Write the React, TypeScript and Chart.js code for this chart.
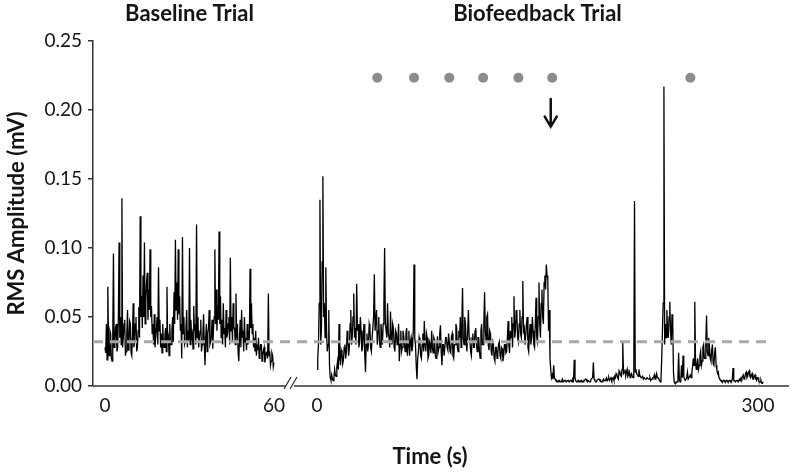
import React, { useEffect, useRef } from 'react';
import { Chart, registerables } from 'chart.js';

Chart.register(...registerables);

// ---------------- data ----------------
const baselineStepSec = 0.25;
const baselineRms = [
  0.028, 0.024, 0.045, 0.019, 0.072, 0.03, 0.022, 0.04, 0.038, 0.02,
  0.018, 0.035, 0.096, 0.028, 0.03, 0.042, 0.045, 0.025, 0.028, 0.05,
  0.104, 0.035, 0.05, 0.03, 0.136, 0.028, 0.035, 0.045, 0.048, 0.022,
  0.025, 0.038, 0.055, 0.026, 0.03, 0.047, 0.045, 0.024, 0.022, 0.036,
  0.06, 0.028, 0.032, 0.045, 0.05, 0.025, 0.028, 0.04, 0.057, 0.035,
  0.123, 0.05, 0.065, 0.042, 0.08, 0.05, 0.104, 0.045, 0.062, 0.075,
  0.082, 0.048, 0.07, 0.055, 0.099, 0.05, 0.058, 0.038, 0.045, 0.03,
  0.052, 0.028, 0.035, 0.042, 0.05, 0.03, 0.086, 0.04, 0.048, 0.028,
  0.038, 0.024, 0.045, 0.03, 0.028, 0.036, 0.042, 0.025, 0.072, 0.032,
  0.035, 0.022, 0.045, 0.03, 0.03, 0.04, 0.05, 0.032, 0.068, 0.045,
  0.106, 0.055, 0.075, 0.048, 0.099, 0.052, 0.065, 0.04, 0.045, 0.02,
  0.108, 0.038, 0.05, 0.03, 0.032, 0.042, 0.055, 0.028, 0.04, 0.033,
  0.1, 0.03, 0.048, 0.035, 0.038, 0.027, 0.058, 0.04, 0.045, 0.03,
  0.117, 0.035, 0.05, 0.028, 0.035, 0.04, 0.048, 0.025, 0.03, 0.038,
  0.052, 0.03, 0.015, 0.035, 0.045, 0.025, 0.038, 0.042, 0.055, 0.03,
  0.032, 0.036, 0.048, 0.027, 0.04, 0.05, 0.099, 0.045, 0.07, 0.04,
  0.058, 0.048, 0.112, 0.045, 0.065, 0.035, 0.048, 0.03, 0.06, 0.038,
  0.042, 0.028, 0.055, 0.035, 0.038, 0.045, 0.05, 0.03, 0.093, 0.04,
  0.05, 0.032, 0.06, 0.042, 0.042, 0.03, 0.067, 0.035, 0.045, 0.025,
  0.018, 0.035, 0.048, 0.028, 0.055, 0.035, 0.04, 0.025, 0.05, 0.032,
  0.035, 0.026, 0.045, 0.03, 0.04, 0.033, 0.085, 0.042, 0.06, 0.038,
  0.045, 0.028, 0.035, 0.025, 0.04, 0.022, 0.03, 0.026, 0.035, 0.02,
  0.025, 0.03, 0.03, 0.018, 0.022, 0.026, 0.028, 0.017, 0.02, 0.024,
  0.025, 0.02, 0.067, 0.022, 0.025, 0.015, 0.018, 0.024, 0.022, 0.014,
  0.017,
];

const biofeedbackStepSec = 0.5;
const biofeedbackRms = [
  0.012, 0.02, 0.03, 0.06, 0.135, 0.03, 0.04, 0.09, 0.152, 0.05,
  0.06, 0.035, 0.086, 0.04, 0.025, 0.03, 0.055, 0.015, 0.006, 0.004,
  0.008, 0.005, 0.004, 0.006, 0.012, 0.008, 0.007, 0.014, 0.018, 0.012,
  0.045, 0.02, 0.015, 0.026, 0.024, 0.016, 0.019, 0.028, 0.03, 0.02,
  0.025, 0.04, 0.034, 0.022, 0.028, 0.045, 0.055, 0.03, 0.036, 0.05,
  0.067, 0.035, 0.042, 0.03, 0.074, 0.04, 0.045, 0.028, 0.032, 0.05,
  0.04, 0.025, 0.028, 0.038, 0.045, 0.022, 0.01, 0.03, 0.038, 0.025,
  0.03, 0.045, 0.042, 0.028, 0.025, 0.035, 0.035, 0.05, 0.081, 0.04,
  0.04, 0.055, 0.03, 0.04, 0.05, 0.032, 0.028, 0.045, 0.038, 0.03,
  0.045, 0.06, 0.1, 0.045, 0.04, 0.035, 0.06, 0.038, 0.035, 0.028,
  0.054, 0.035, 0.03, 0.045, 0.042, 0.028, 0.025, 0.04, 0.038, 0.03,
  0.032, 0.045, 0.018, 0.03, 0.04, 0.025, 0.028, 0.04, 0.036, 0.03,
  0.025, 0.038, 0.042, 0.022, 0.03, 0.04, 0.022, 0.032, 0.035, 0.025,
  0.028, 0.04, 0.088, 0.035, 0.03, 0.015, 0.005, 0.02, 0.025, 0.035,
  0.032, 0.022, 0.02, 0.03, 0.038, 0.025, 0.047, 0.03, 0.025, 0.038,
  0.035, 0.02, 0.022, 0.032, 0.03, 0.024, 0.04, 0.028, 0.024, 0.035,
  0.033, 0.022, 0.02, 0.03, 0.036, 0.025, 0.028, 0.038, 0.044, 0.025,
  0.015, 0.03, 0.03, 0.022, 0.022, 0.035, 0.035, 0.028, 0.026, 0.038,
  0.032, 0.025, 0.024, 0.036, 0.038, 0.022, 0.02, 0.03, 0.03, 0.045,
  0.042, 0.028, 0.025, 0.04, 0.035, 0.05, 0.028, 0.045, 0.071, 0.035,
  0.03, 0.05, 0.045, 0.03, 0.025, 0.04, 0.055, 0.035, 0.032, 0.025,
  0.022, 0.035, 0.038, 0.028, 0.028, 0.04, 0.042, 0.03, 0.025, 0.035,
  0.035, 0.025, 0.02, 0.04, 0.045, 0.03, 0.03, 0.045, 0.068, 0.04,
  0.033, 0.05, 0.052, 0.03, 0.026, 0.04, 0.038, 0.025, 0.022, 0.032,
  0.03, 0.02, 0.018, 0.028, 0.028, 0.02, 0.024, 0.03, 0.032, 0.022,
  0.02, 0.028, 0.027, 0.018, 0.022, 0.03, 0.03, 0.024, 0.025, 0.035,
  0.047, 0.03, 0.024, 0.04, 0.035, 0.05, 0.028, 0.045, 0.065, 0.035,
  0.04, 0.055, 0.05, 0.035, 0.032, 0.045, 0.055, 0.038, 0.035, 0.05,
  0.076, 0.04, 0.042, 0.03, 0.03, 0.045, 0.05, 0.028, 0.025, 0.038,
  0.045, 0.03, 0.035, 0.05, 0.04, 0.03, 0.028, 0.045, 0.064, 0.035,
  0.032, 0.05, 0.075, 0.045, 0.035, 0.06, 0.07, 0.05, 0.045, 0.075,
  0.08, 0.07, 0.088, 0.08, 0.078, 0.04, 0.055, 0.02, 0.012, 0.006,
  0.008, 0.005, 0.015, 0.006, 0.005, 0.004, 0.004, 0.003, 0.003, 0.004,
  0.004, 0.003, 0.003, 0.004, 0.005, 0.003, 0.003, 0.004, 0.004, 0.003,
  0.003, 0.004, 0.004, 0.003, 0.003, 0.004, 0.004, 0.003, 0.005, 0.004,
  0.019, 0.006, 0.004, 0.003, 0.003, 0.004, 0.004, 0.003, 0.003, 0.004,
  0.004, 0.003, 0.003, 0.004, 0.004, 0.005, 0.005, 0.004, 0.003, 0.004,
  0.004, 0.003, 0.003, 0.005, 0.005, 0.006, 0.017, 0.005, 0.004, 0.003,
  0.003, 0.004, 0.004, 0.005, 0.005, 0.004, 0.004, 0.003, 0.003, 0.004,
  0.005, 0.004, 0.004, 0.005, 0.006, 0.004, 0.005, 0.006, 0.004, 0.005,
  0.006, 0.004, 0.005, 0.006, 0.004, 0.007, 0.006, 0.009, 0.008, 0.006,
  0.005, 0.011, 0.01, 0.008, 0.007, 0.012, 0.032, 0.009, 0.01, 0.012,
  0.007, 0.01, 0.012, 0.007, 0.008, 0.01, 0.006, 0.008, 0.009, 0.007,
  0.006, 0.008, 0.134, 0.01, 0.012, 0.009, 0.008, 0.007, 0.012, 0.008,
  0.007, 0.006, 0.006, 0.007, 0.005, 0.006, 0.006, 0.005, 0.005, 0.006,
  0.006, 0.005, 0.005, 0.006, 0.004, 0.005, 0.005, 0.006, 0.006, 0.008,
  0.005, 0.007, 0.009, 0.006, 0.006, 0.005, 0.004, 0.003, 0.005, 0.02,
  0.04, 0.06, 0.217, 0.03, 0.045, 0.035, 0.055, 0.04, 0.035, 0.05,
  0.061, 0.04, 0.03, 0.052, 0.045, 0.01, 0.003, 0.002, 0.002, 0.003,
  0.003, 0.004, 0.024, 0.004, 0.003, 0.005, 0.015, 0.006, 0.022, 0.007,
  0.005, 0.004, 0.004, 0.006, 0.01, 0.005, 0.005, 0.007, 0.008, 0.006,
  0.01, 0.014, 0.02, 0.015, 0.061, 0.018, 0.012, 0.016, 0.02, 0.012,
  0.015, 0.022, 0.025, 0.015, 0.018, 0.028, 0.03, 0.02, 0.02, 0.032,
  0.051, 0.025, 0.022, 0.035, 0.028, 0.02, 0.018, 0.026, 0.03, 0.016,
  0.015, 0.024, 0.028, 0.015, 0.012, 0.009, 0.01, 0.006, 0.005, 0.004,
  0.004, 0.003, 0.003, 0.004, 0.004, 0.003, 0.003, 0.004, 0.004, 0.003,
  0.003, 0.004, 0.004, 0.003, 0.003, 0.005, 0.013, 0.004, 0.004, 0.003,
  0.003, 0.004, 0.004, 0.003, 0.003, 0.005, 0.004, 0.006, 0.005, 0.007,
  0.008, 0.005, 0.006, 0.009, 0.01, 0.006, 0.007, 0.01, 0.011, 0.007,
  0.006, 0.008, 0.009, 0.005, 0.005, 0.007, 0.008, 0.005, 0.004, 0.006,
  0.006, 0.004, 0.003, 0.003, 0.004, 0.002, 0.002, 0.003, 0.003,
];

const thresholdRms = 0.032;
const markerSeconds = [41, 66, 90, 113, 137, 160, 254];
const markerLevel = 0.2234;
const arrowSecond = 159;
const arrowFromRms = 0.208;
const arrowToRms = 0.188;

const yTickValues = [0, 0.05, 0.1, 0.15, 0.2, 0.25];
const yTickLabels = ['0.00', '0.05', '0.10', '0.15', '0.20', '0.25'];
const xTickTrials = ['baseline', 'baseline', 'biofeedback', 'biofeedback'];
const xTickSeconds = [0, 60, 0, 300];
const xTickLabels = ['0', '60', '0', '300'];
const trialNames = ['baseline', 'biofeedback'];
const trialTitles = ['Baseline Trial', 'Biofeedback Trial'];
const trialTitleSeconds = [30, 150];

// ---------------- layout (broken time axis) ----------------
const AXIS_MIN = 93;
const AXIS_MAX = 789;
const SEGMENTS: Record<string, { origin: number; perSec: number }> = {
  baseline: { origin: 105, perSec: 169 / 60 },
  biofeedback: { origin: 317, perSec: 441 / 300 },
};
const BREAK_AT = 290;
const THRESHOLD_END = 770;
const toAxis = (trial: string, sec: number) => SEGMENTS[trial].origin + sec * SEGMENTS[trial].perSec;

const FONT = 'Lato, "Open Sans", sans-serif';
const TEXT = '#151515';
const AXIS = '#333333';
const TITLE_SIZE = 22;
const TICK_SIZE = 19;

const overlayPlugin = {
  id: 'overlay',
  afterDraw(chart: any) {
    const { ctx, chartArea, scales } = chart;
    const x = scales.x;
    const y = scales.y;
    ctx.save();
    // broken x axis line
    const yb = chartArea.bottom;
    const bx = x.getPixelForValue(BREAK_AT);
    ctx.strokeStyle = AXIS;
    ctx.lineWidth = 1.5;
    ctx.beginPath();
    ctx.moveTo(chartArea.left, yb);
    ctx.lineTo(bx - 4, yb);
    ctx.moveTo(bx + 4, yb);
    ctx.lineTo(chartArea.right, yb);
    ctx.stroke();
    ctx.lineWidth = 1.3;
    ctx.beginPath();
    ctx.moveTo(bx - 6, yb + 3);
    ctx.lineTo(bx + 1, yb - 9);
    ctx.moveTo(bx, yb + 3);
    ctx.lineTo(bx + 7, yb - 9);
    ctx.stroke();

    // arrow
    const ax = x.getPixelForValue(toAxis('biofeedback', arrowSecond));
    const y1 = y.getPixelForValue(arrowFromRms);
    const y2 = y.getPixelForValue(arrowToRms);
    ctx.strokeStyle = '#111';
    ctx.lineWidth = 2.5;
    ctx.lineCap = 'round';
    ctx.beginPath();
    ctx.moveTo(ax, y1);
    ctx.lineTo(ax, y2);
    ctx.moveTo(ax - 6, y2 - 10);
    ctx.lineTo(ax, y2);
    ctx.lineTo(ax + 6, y2 - 10);
    ctx.stroke();

    // trial titles
    ctx.fillStyle = TEXT;
    ctx.font = `bold ${TITLE_SIZE}px ${FONT}`;
    ctx.textAlign = 'center';
    ctx.textBaseline = 'middle';
    trialNames.forEach((tr, i) => {
      const px = x.getPixelForValue(toAxis(tr, trialTitleSeconds[i]));
      ctx.fillText(trialTitles[i], px, 14);
    });
    // x axis title
    ctx.fillText('Time (s)', 430, 457);
    ctx.restore();
  },
};

export default function App() {
  const ref = useRef<HTMLCanvasElement>(null);

  useEffect(() => {
    document.body.style.margin = '0';
    const canvas = ref.current;
    if (!canvas) return;

    const baselinePts = baselineRms.map((v, i) => ({ x: toAxis('baseline', i * baselineStepSec), y: v }));
    const bioPts = biofeedbackRms.map((v, i) => ({ x: toAxis('biofeedback', i * biofeedbackStepSec), y: v }));
    const markerPts = markerSeconds.map((s) => ({ x: toAxis('biofeedback', s), y: markerLevel }));
    const thresholdPts = [
      { x: AXIS_MIN, y: thresholdRms },
      { x: THRESHOLD_END, y: thresholdRms },
    ];

    const chart = new Chart(canvas, {
      type: 'line',
      data: {
        datasets: [
          {
            data: thresholdPts,
            borderColor: '#a8a8a8',
            borderWidth: 3,
            borderDash: [10, 7],
            pointRadius: 0,
          },
          {
            data: markerPts,
            showLine: false,
            pointRadius: 5,
            pointBackgroundColor: '#8c8c8c',
            pointBorderWidth: 0,
            borderColor: '#8c8c8c',
          },
          {
            data: baselinePts,
            borderColor: '#000',
            borderWidth: 1.3,
            pointRadius: 0,
            tension: 0,
          },
          {
            data: bioPts,
            borderColor: '#000',
            borderWidth: 1.3,
            pointRadius: 0,
            tension: 0,
          },
        ],
      } as any,
      options: {
        animation: false,
        responsive: false,
        maintainAspectRatio: false,
        layout: { padding: { left: 0, right: 11, top: 41, bottom: 0 } },
        plugins: {
          legend: { display: false },
          tooltip: { enabled: false },
          title: { display: false },
        },
        scales: {
          x: {
            type: 'linear',
            min: AXIS_MIN,
            max: AXIS_MAX,
            border: { display: false },
            grid: { display: false, drawTicks: false },
            afterBuildTicks: (s: any) => {
              s.ticks = xTickSeconds.map((t, i) => ({ value: toAxis(xTickTrials[i], t) }));
            },
            afterFit: (s: any) => {
              s.height = 86;
            },
            ticks: {
              autoSkip: false,
              maxRotation: 0,
              padding: 8,
              color: TEXT,
              font: { family: FONT, size: TICK_SIZE },
              callback: (_v: any, i: number) => xTickLabels[i],
            },
          },
          y: {
            type: 'linear',
            min: 0,
            max: 0.25,
            afterBuildTicks: (s: any) => {
              s.ticks = yTickValues.map((v) => ({ value: v }));
            },
            afterFit: (s: any) => {
              s.width = 93;
            },
            border: { display: true, color: AXIS, width: 1.5 },
            grid: { drawOnChartArea: false, drawTicks: true, tickLength: 5, color: AXIS, lineWidth: 1.5 },
            ticks: {
              padding: 6,
              color: TEXT,
              font: { family: FONT, size: TICK_SIZE },
              callback: (_v: any, i: number) => yTickLabels[i],
            },
            title: {
              display: true,
              text: 'RMS Amplitude (mV)',
              color: TEXT,
              font: { family: FONT, size: TITLE_SIZE, weight: 'bold' },
              padding: { top: 4, bottom: 0 },
            },
          },
        },
      } as any,
      plugins: [overlayPlugin],
    });

    return () => chart.destroy();
  }, []);

  return (
    <div style={{ width: 800, height: 472 }}>
      <canvas ref={ref} width={800} height={472} style={{ display: 'block' }} />
    </div>
  );
}
